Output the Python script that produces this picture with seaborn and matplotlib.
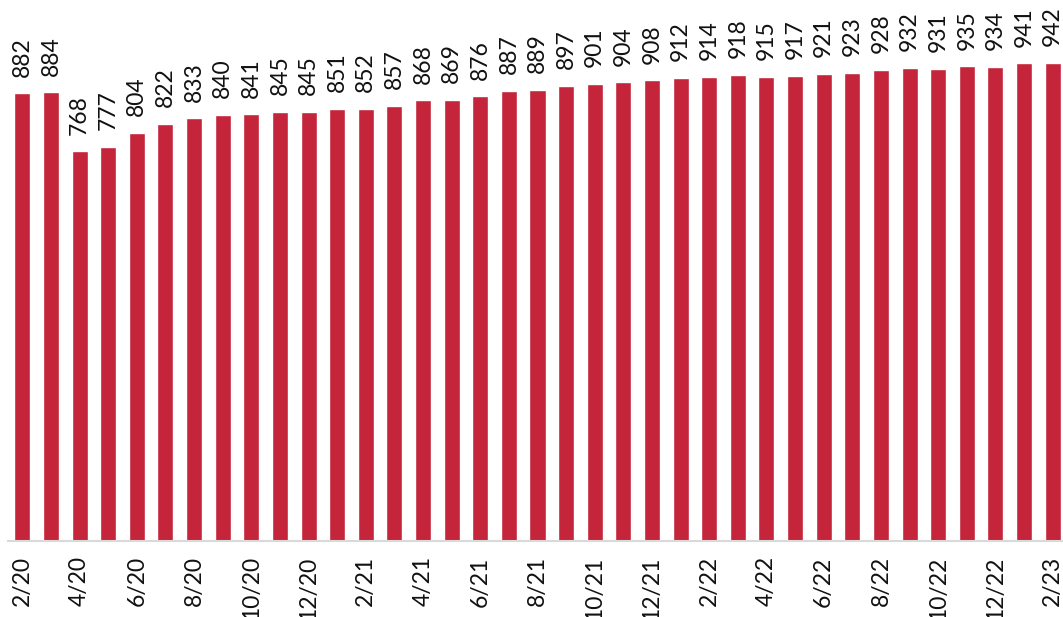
#!/usr/bin/env python3
"""Monthly index bar chart, 2/20 to 2/23, with value labels."""

import matplotlib

matplotlib.use("Agg")
import matplotlib.pyplot as plt
import pandas as pd
import seaborn as sns

MONTHS = [
    "2/20", "3/20", "4/20", "5/20", "6/20", "7/20", "8/20", "9/20", "10/20",
    "11/20", "12/20", "1/21", "2/21", "3/21", "4/21", "5/21", "6/21", "7/21",
    "8/21", "9/21", "10/21", "11/21", "12/21", "1/22", "2/22", "3/22", "4/22",
    "5/22", "6/22", "7/22", "8/22", "9/22", "10/22", "11/22", "12/22", "1/23",
    "2/23",
]
VALUES = [
    882, 884, 768, 777, 804, 822, 833, 840, 841, 845, 845, 851, 852, 857,
    868, 869, 876, 887, 889, 897, 901, 904, 908, 912, 914, 918, 915, 917,
    921, 923, 928, 932, 931, 935, 934, 941, 942,
]

BAR_COLOR = "#C4253A"
FONT = ["Lato", "DejaVu Sans"]


def main() -> None:
    sns.set_theme(style="white")
    plt.rcParams["font.family"] = FONT

    df = pd.DataFrame({"month": MONTHS, "value": VALUES})

    fig = plt.figure(figsize=(10.63, 6.17), dpi=100)
    ax = fig.add_axes([8 / 1063, 76 / 617, 1059 / 1063, 541 / 617])

    sns.barplot(
        data=df,
        x="month",
        y="value",
        color=BAR_COLOR,
        saturation=1,
        width=0.56,
        ax=ax,
    )
    ax.set_ylim(0, 1066)
    ax.set_xlim(-0.5, len(MONTHS) - 0.5)

    for pos, val in enumerate(VALUES):
        ax.annotate(
            f"{val}",
            xy=(pos, val),
            xytext=(0, 12),
            textcoords="offset points",
            rotation=90,
            ha="center",
            va="bottom",
            fontsize=16.5,
            color="#111111",
            clip_on=False,
            annotation_clip=False,
        )

    ticks = list(range(0, len(MONTHS), 2))
    ax.set_xticks(ticks)
    ax.set_xticklabels(
        [MONTHS[i] for i in ticks], rotation=90, fontsize=16.5, color="#111111"
    )
    ax.tick_params(axis="x", length=0, pad=11)
    ax.set_yticks([])
    ax.set_xlabel("")
    ax.set_ylabel("")

    for side in ("top", "left", "right"):
        ax.spines[side].set_visible(False)
    ax.spines["bottom"].set_color("#D9D9D9")
    ax.spines["bottom"].set_linewidth(1.5)

    fig.savefig("out.png", dpi=100)
    plt.close(fig)


if __name__ == "__main__":
    main()
